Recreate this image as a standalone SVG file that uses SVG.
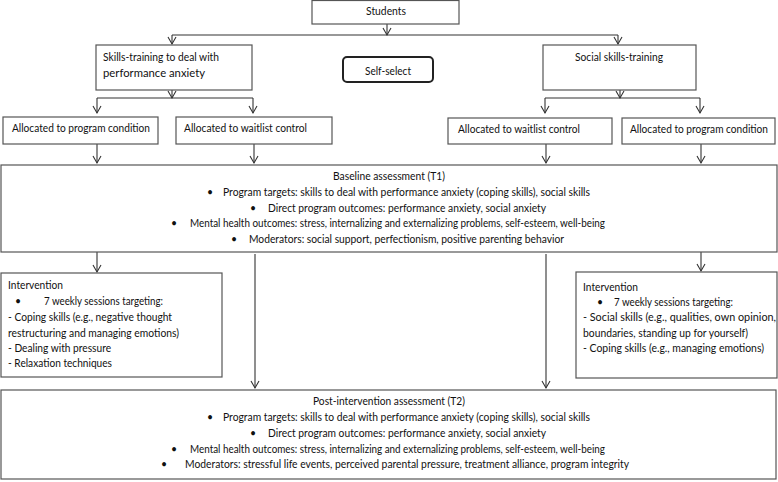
<svg xmlns="http://www.w3.org/2000/svg" width="778" height="482" viewBox="0 0 778 482">
<style>
.box{fill:#fff;stroke:#555;stroke-width:1.2}
.sel{fill:#fff;stroke:#222;stroke-width:2}
.t{font-family:Lato,"Open Sans","Liberation Sans",sans-serif;font-size:10.5px;fill:#111}
.c{text-anchor:middle}
.ln{fill:none;stroke:#333;stroke-width:1.1}
</style>
<defs>
<marker id="ah" markerUnits="userSpaceOnUse" markerWidth="12" markerHeight="12" refX="0" refY="0" viewBox="-8 -6 10 12" orient="auto" overflow="visible">
<path d="M-7,-4 L0,0 L-7,4" fill="none" stroke="#333" stroke-width="1.1"/>
</marker>
</defs>
<rect width="778" height="482" fill="#fff"/>
<g id="connectors" class="ln">
<path d="M387,24 V35" marker-end="url(#ah)"/>
<path d="M172,35 H618"/>
<path d="M172,35 V44" marker-end="url(#ah)"/>
<path d="M618,35 V44" marker-end="url(#ah)"/>
<path d="M172,90 V98" marker-end="url(#ah)"/>
<path d="M97,98 H253"/>
<path d="M97,98 V113" marker-end="url(#ah)"/>
<path d="M253,98 V113" marker-end="url(#ah)"/>
<path d="M620,90 V98" marker-end="url(#ah)"/>
<path d="M545,98 H700"/>
<path d="M545,98 V113" marker-end="url(#ah)"/>
<path d="M700,98 V113" marker-end="url(#ah)"/>
<path d="M97,144 V163" marker-end="url(#ah)"/>
<path d="M254,144 V163" marker-end="url(#ah)"/>
<path d="M546,144 V163" marker-end="url(#ah)"/>
<path d="M701,144 V163" marker-end="url(#ah)"/>
<path d="M97,252 V272" marker-end="url(#ah)"/>
<path d="M255,254 V388" marker-end="url(#ah)"/>
<path d="M546,254 V388" marker-end="url(#ah)"/>
<path d="M701,252 V271" marker-end="url(#ah)"/>
</g>
<g id="students">
<rect class="box" x="312" y="0.5" width="147" height="23.5"/>
<text class="t" x="366" y="15" textLength="40" lengthAdjust="spacingAndGlyphs">Students</text>
</g>
<g id="skills-training">
<rect class="box" x="96" y="45" width="156" height="45"/>
<text class="t" x="103" y="61" textLength="116" lengthAdjust="spacingAndGlyphs">Skills-training to deal with</text>
<text class="t" x="103" y="77" textLength="102" lengthAdjust="spacingAndGlyphs">performance anxiety</text>
</g>
<g id="self-select">
<rect class="sel" x="343" y="57" width="90" height="25" rx="4"/>
<text class="t" x="365" y="74.5" textLength="46" lengthAdjust="spacingAndGlyphs">Self-select</text>
</g>
<g id="social-skills">
<rect class="box" x="543" y="45" width="153" height="45"/>
<text class="t" x="575" y="61" textLength="88" lengthAdjust="spacingAndGlyphs">Social skills-training</text>
</g>
<g id="left-program">
<rect class="box" x="3" y="117" width="155" height="27"/>
<text class="t" x="12" y="132" textLength="138" lengthAdjust="spacingAndGlyphs">Allocated to program condition</text>
</g>
<g id="left-waitlist">
<rect class="box" x="176" y="117" width="156" height="27"/>
<text class="t" x="184" y="132" textLength="123" lengthAdjust="spacingAndGlyphs">Allocated to waitlist control</text>
</g>
<g id="right-waitlist">
<rect class="box" x="448" y="118" width="164" height="26"/>
<text class="t" x="458" y="133" textLength="122" lengthAdjust="spacingAndGlyphs">Allocated to waitlist control</text>
</g>
<g id="right-program">
<rect class="box" x="622" y="118" width="153" height="26"/>
<text class="t" x="630" y="133" textLength="138" lengthAdjust="spacingAndGlyphs">Allocated to program condition</text>
</g>
<g id="baseline">
<rect class="box" x="1" y="165" width="776" height="87"/>
<text class="t" x="333" y="179.5" textLength="112" lengthAdjust="spacingAndGlyphs">Baseline assessment (T1)</text>
<text class="t" x="207" y="195.5">•</text>
<text class="t" x="223" y="195.5" textLength="367" lengthAdjust="spacingAndGlyphs">Program targets: skills to deal with performance anxiety (coping skills), social skills</text>
<text class="t" x="250" y="211.5">•</text>
<text class="t" x="268" y="211.5" textLength="278" lengthAdjust="spacingAndGlyphs">Direct program outcomes: performance anxiety, social anxiety</text>
<text class="t" x="171" y="226.5">•</text>
<text class="t" x="190" y="226.5" textLength="415" lengthAdjust="spacingAndGlyphs">Mental health outcomes: stress, internalizing and externalizing problems, self-esteem, well-being</text>
<text class="t" x="231" y="242.5">•</text>
<text class="t" x="249" y="242.5" textLength="315" lengthAdjust="spacingAndGlyphs">Moderators: social support, perfectionism, positive parenting behavior</text>
</g>
<g id="left-intervention">
<rect class="box" x="1" y="273" width="221" height="104"/>
<text class="t" x="8" y="288.5" textLength="55" lengthAdjust="spacingAndGlyphs">Intervention</text>
<text class="t" x="15" y="304.5">•</text>
<text class="t" x="44" y="304.5" textLength="119" lengthAdjust="spacingAndGlyphs">7 weekly sessions targeting:</text>
<text class="t" x="8" y="320.5" textLength="164" lengthAdjust="spacingAndGlyphs">- Coping skills (e.g., negative thought</text>
<text class="t" x="8" y="336.5" textLength="171" lengthAdjust="spacingAndGlyphs">restructuring and managing emotions)</text>
<text class="t" x="8" y="351.5" textLength="103" lengthAdjust="spacingAndGlyphs">- Dealing with pressure</text>
<text class="t" x="8" y="366.5" textLength="104" lengthAdjust="spacingAndGlyphs">- Relaxation techniques</text>
</g>
<g id="right-intervention">
<rect class="box" x="576" y="272" width="201" height="106"/>
<text class="t" x="583" y="290.5" textLength="55" lengthAdjust="spacingAndGlyphs">Intervention</text>
<text class="t" x="597" y="305.5">•</text>
<text class="t" x="614" y="305.5" textLength="119" lengthAdjust="spacingAndGlyphs">7 weekly sessions targeting:</text>
<text class="t" x="583" y="320.5" textLength="193" lengthAdjust="spacingAndGlyphs">- Social skills (e.g., qualities, own opinion,</text>
<text class="t" x="583" y="336.5" textLength="165" lengthAdjust="spacingAndGlyphs">boundaries, standing up for yourself)</text>
<text class="t" x="583" y="351.5" textLength="181" lengthAdjust="spacingAndGlyphs">- Coping skills (e.g., managing emotions)</text>
</g>
<g id="post-intervention">
<rect class="box" x="1" y="390" width="775" height="89"/>
<text class="t" x="313" y="404.5" textLength="152" lengthAdjust="spacingAndGlyphs">Post-intervention assessment (T2)</text>
<text class="t" x="207" y="420.5">•</text>
<text class="t" x="223" y="420.5" textLength="367" lengthAdjust="spacingAndGlyphs">Program targets: skills to deal with performance anxiety (coping skills), social skills</text>
<text class="t" x="250" y="436.5">•</text>
<text class="t" x="268" y="436.5" textLength="278" lengthAdjust="spacingAndGlyphs">Direct program outcomes: performance anxiety, social anxiety</text>
<text class="t" x="171" y="452.5">•</text>
<text class="t" x="190" y="452.5" textLength="415" lengthAdjust="spacingAndGlyphs">Mental health outcomes: stress, internalizing and externalizing problems, self-esteem, well-being</text>
<text class="t" x="161" y="467.5">•</text>
<text class="t" x="185" y="467.5" textLength="444" lengthAdjust="spacingAndGlyphs">Moderators: stressful life events, perceived parental pressure, treatment alliance, program integrity</text>
</g>
</svg>
